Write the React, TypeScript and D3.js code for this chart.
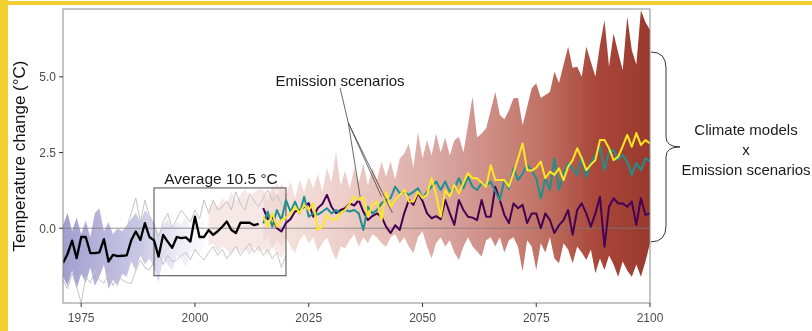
import * as d3 from "d3";

// observed record, 1971-2014
const histStart = 1971;
const histTemp = [
  -1.15, -0.85, -0.41, -0.99, -0.29, -0.29, -0.82, -0.82, -0.8, -0.36,
  -1.1, -0.88, -0.92, -0.91, -0.9, -0.4, -0.11, -0.39, 0.17, -0.29,
  -0.4, -0.94, -0.22, -0.44, -0.65, -0.29, -0.33, -0.3, -0.44, 0.38,
  -0.29, -0.29, -0.06, -0.22, -0.1, 0.05, 0.22, -0.06, -0.16, 0.18,
  0.18, 0.18, 0.1, 0.14,
];

// lavender spread around the observations, 1971-2002
const lavStart = 1971;
const lavUpper = [
  0.1, 0.5, -0.1, 0.35, -0.2, 0.25, -0.3, 0.5, 0.65, -0.1, 0.2, -0.2, 0.0,
  -0.1, 0.1, 0.3, 0.5, 0.2, 0.6, 0.4, 0.2, -0.2, 0.1, 0.3, 0.0, 0.2, 0.1,
  0.4, 0.0, 0.5, 0.2, 0.3,
];
const lavLower = [
  -1.6, -1.9, -1.4, -2.0, -1.5, -1.8, -1.3, -1.9, -1.6, -1.2, -2.0, -1.7,
  -1.9, -1.5, -1.6, -1.1, -1.4, -0.9, -1.2, -1.0, -1.3, -1.8, -1.0, -1.2,
  -1.4, -0.9, -1.0, -1.3, -0.8, -0.7, -0.9, -0.6,
];

// thin grey model lines
const greyUpStart = 1985;
const greyUpper = [
  0.0, 0.5, 1.0, 0.2, 0.93, 0.4, 0.1, -0.28, 0.2, 0.5, 0.0, 0.3, 0.6, 0.4,
  0.2, 0.6, 0.3, 0.93, 0.5, 0.93, 0.6, 0.7, 0.9, 0.6, 1.2, 0.8, 0.6, 1.15,
  0.9, 0.7, 1.0, 1.26, 0.9, 1.1, 0.8, 0.6,
];
const greyLowStart = 1971;
const greyLower = [
  -1.7, -2.0, -1.5, -1.93, -2.47, -1.6, -1.8, -1.4, -1.7, -1.82, -1.5, -1.9,
  -1.6, -1.7, -1.8, -1.82, -1.4, -1.05, -1.3, -1.38, -1.1, -0.83, -1.2, -0.9,
  -1.1, -1.05, -0.9, -0.8, -1.05, -0.7, -0.9, -1.05, -0.8, -0.6, -0.9, -0.7,
  -1.0, -0.8, -0.6, -0.9, -0.7, -0.5, -0.8, -0.6, -0.9, -0.7, -1.0, -0.8,
  -1.3, -0.9,
];

// pale overlap band 2003-2020
const transStart = 2003;
const transUpper = [
  0.6, 0.9, 0.7, 1.0, 0.8, 1.2, 0.9, 1.1, 1.3, 1.0, 1.2, 1.3, 1.25, 1.1, 1.3,
  1.5, 1.2, 1.4,
];
const transLower = [
  -0.6, -0.5, -0.8, -0.6, -0.7, -0.9, -0.6, -0.8, -0.7, -0.9, -0.6, -0.8,
  -0.7, -0.9, -0.6, -0.8, -1.0, -0.7,
];

// climate models x emission scenarios envelope, 2015-2100
const scenStart = 2015;
const scenUpper = [
  1.2, 0.9, 1.4, 1.0, 1.5, 1.1, 1.54, 1.0, 1.6, 1.2, 1.7, 1.3, 1.8, 1.2, 2.0,
  1.5, 2.53, 1.4, 1.9, 1.3, 2.0, 1.5, 2.15, 1.4, 2.0, 1.6, 2.2, 1.7, 2.2, 1.6,
  2.3, 2.47, 2.8, 2.0, 3.19, 2.3, 2.91, 2.4, 3.13, 2.5, 3.0, 2.4, 2.9, 3.02,
  2.5, 3.4, 4.34, 3.0, 3.13, 3.3, 3.9, 4.51, 3.74, 3.6, 3.9, 4.29, 4.3, 3.4,
  4.0, 4.62, 4.79, 4.3, 4.4, 4.5, 5.17, 4.8, 5.4, 5.99, 5.3, 5.33, 5.0, 5.99,
  5.5, 5.0, 6.05, 6.87, 5.33, 6.43, 5.8, 5.22, 6.98, 5.88, 5.4, 7.2, 6.8,
  6.55,
];
const scenLower = [
  -0.5, -0.3, -0.7, -0.39, -0.6, -0.3, -0.6, -0.83, -0.4, -0.2, -0.5, -0.3,
  -0.77, -0.5, -0.3, -0.7, -1.05, -0.6, -0.66, -0.4, -0.2, -0.6, -0.3, -0.5,
  -0.2, -0.3, -0.5, -0.61, -0.3, -0.2, -0.5, -0.3, -0.6, -0.83, -0.3, -0.1,
  -0.6, -0.99, -0.5, -0.3, -0.6, -0.4, -0.8, -1.05, -0.6, -0.3, -0.6, -0.77,
  -0.94, -0.4, -0.3, -0.6, -0.3, -0.8, -0.4, -0.3, -0.61, -1.43, -0.4, -0.6,
  -1.38, -0.5, -0.8, -0.3, -1.0, -1.16, -0.5, -0.7, -1.16, -0.6, -0.8, -1.05,
  -0.7, -1.49, -1.0, -1.38, -0.9, -1.2, -1.6, -1.1, -1.4, -1.6, -1.2, -1.6,
  -1.1, -0.5,
];

// three emission scenario means, 2015-2100
const scenLow = [
  0.66, 0.3, 0.4, 0.0, -0.11, 0.17, 0.3, 0.55, 0.6, 0.7, 0.83, 0.38, 0.67,
  0.8, 1.1, 0.71, 0.5, 0.6, 0.66, 0.82, 0.75, 0.93, 0.55, 0.27, 0.4, 0.49,
  0.38, 0.05, -0.16, 0.1, -0.06, 0.5, 0.93, 0.77, 1.16, 0.9, 0.49, 0.33, 0.4,
  0.3, 0.93, 0.5, 0.11, 0.93, 0.6, 0.38, 0.35, 0.27, 0.93, 0.38, 0.38, 1.37,
  0.93, 0.44, 0.17, 0.82, 0.66, 0.77, 0.17, 0.49, 0.49, 0.0, 0.49, 0.27,
  -0.16, 0.1, 0.27, 0.6, -0.22, 0.6, 0.82, 0.49, 0.05, 0.49, 1.04, -0.61,
  0.71, 0.99, 0.82, 0.82, 0.71, 0.88, 0.11, 0.99, 0.44, 0.5,
];
const scenMid = [
  0.16, 0.55, 0.05, 0.6, 0.27, 0.93, 0.55, 0.88, 0.49, 1.04, 0.38, 0.49,
  0.45, 0.55, 0.66, 0.49, 0.6, 0.5, 0.6, 0.55, 0.6, 0.49, -0.06, 0.71, 0.49,
  0.6, 0.82, 0.93, 0.99, 1.37, 1.16, 1.2, 1.1, 1.2, 1.32, 0.99, 1.2, 1.37,
  1.54, 1.26, 1.54, 1.2, 1.32, 1.65, 1.32, 1.7, 1.37, 1.26, 1.49, 1.4, 1.54,
  1.21, 0.93, 1.59, 1.3, 1.98, 1.59, 1.8, 2.09, 1.9, 1.65, 0.99, 1.65, 1.26,
  2.31, 1.26, 1.82, 2.15, 1.98, 1.76, 2.36, 1.7, 2.15, 2.4, 2.69, 1.92, 2.53,
  2.58, 2.25, 2.42, 2.2, 1.76, 2.15, 1.92, 2.31, 2.2,
];
const scenHigh = [
  0.38, 0.05, 0.49, 0.05, 0.27, 0.35, 0.49, 0.71, 0.5, 0.77, 0.6, 0.82,
  -0.06, 0.05, 0.44, 0.3, 0.27, 0.49, 0.6, 0.82, 1.04, 0.93, 1.04, 0.38,
  0.77, 0.88, 0.27, 1.2, 0.71, 0.93, 1.1, 1.26, 0.88, 0.88, 1.2, 1.0, 1.1,
  1.65, 1.1, 0.38, 1.26, 1.04, 1.43, 1.15, 1.5, 1.82, 1.65, 1.65, 1.5, 1.37,
  2.09, 1.59, 1.59, 1.59, 1.37, 1.82, 2.3, 2.8, 1.92, 1.9, 2.0, 2.2, 1.65,
  1.87, 1.76, 1.98, 1.59, 2.03, 2.25, 2.64, 2.31, 1.92, 2.1, 2.25, 2.91,
  2.91, 2.64, 2.25, 2.36, 2.7, 3.08, 2.69, 3.14, 2.75, 2.91, 2.8,
];

const xTicks = [1975, 2000, 2025, 2050, 2075, 2100];
const yTicks = [0, 2.5, 5.0];

// 30-year reference window
const refYears = [1991, 2020];
const refTemps = [-1.57, 1.33];

const W = 812;
const H = 331;
const M = { left: 63, right: 650, top: 9, bottom: 303 };
const FONT = "'Liberation Sans', Arial, Helvetica, sans-serif";

type P = [number, number];
const toPts = (start: number, vals: number[]): P[] =>
  vals.map((v, i) => [start + i, v]);

export default function App() {
  const x = d3.scaleLinear().domain([1971, 2100]).range([M.left, M.right]);
  const y = d3.scaleLinear().domain([-2.47, 7.24]).range([M.bottom, M.top]);

  const line = d3
    .line<P>()
    .x((d) => x(d[0]))
    .y((d) => y(d[1]));

  const band = (start: number, up: number[], lo: number[]) =>
    d3
      .area<number>()
      .x((_, i) => x(start + i))
      .y0((_, i) => y(lo[i]))
      .y1((d) => y(d))(up) || "";

  // brace geometry
  const bx0 = M.right + 1;
  const bxm = M.right + 16;
  const bxt = M.right + 30;
  const by0 = y(5.82);
  const by1 = y(-0.45);
  const bym = (by0 + by1) / 2;
  const brace = `M${bx0},${by0} Q${bxm},${by0} ${bxm},${by0 + 16} L${bxm},${bym - 10} Q${bxm},${bym} ${bxt},${bym} Q${bxm},${bym} ${bxm},${bym + 10} L${bxm},${by1 - 16} Q${bxm},${by1} ${bx0},${by1}`;

  // leader lines for "Emission scenarios"
  const hub: P = [2033.7, 3.48];
  const leaderFrom: P = [2031.9, 4.63];
  const leaderTo: P[] = [
    [2036.3, 1.04],
    [2041.0, 1.04],
    [2043.4, 0.5],
  ];

  return (
    <div style={{ position: "fixed", left: 0, top: 0 }}>
      <svg width={W} height={H} style={{ display: "block", fontFamily: FONT }}>
        <defs>
          <linearGradient
            id="scenGrad"
            gradientUnits="userSpaceOnUse"
            x1={x(2015)}
            x2={x(2100)}
            y1={0}
            y2={0}
          >
            <stop offset="0%" stopColor="#efd3ce" stopOpacity={0.55} />
            <stop offset="25%" stopColor="#e4b5ad" stopOpacity={0.75} />
            <stop offset="50%" stopColor="#d0918a" stopOpacity={0.88} />
            <stop offset="72%" stopColor="#bd6a5c" stopOpacity={0.95} />
            <stop offset="86%" stopColor="#a8473a" stopOpacity={1} />
            <stop offset="100%" stopColor="#9a3a2e" stopOpacity={1} />
          </linearGradient>
          <linearGradient
            id="lavGrad"
            gradientUnits="userSpaceOnUse"
            x1={x(1971)}
            x2={x(2002)}
            y1={0}
            y2={0}
          >
            <stop offset="0%" stopColor="#7b73b9" stopOpacity={0.7} />
            <stop offset="55%" stopColor="#9690cc" stopOpacity={0.5} />
            <stop offset="100%" stopColor="#cfcbe6" stopOpacity={0.1} />
          </linearGradient>
          <clipPath id="panel">
            <rect x={M.left} y={M.top} width={M.right - M.left} height={M.bottom - M.top} />
          </clipPath>
        </defs>

        {/* yellow frame */}
        <rect x={0} y={0} width={8} height={H} fill="#f0cf2f" />
        <rect x={0} y={1} width={W} height={4} fill="#f0cf2f" />

        <rect x={M.left} y={M.top} width={M.right - M.left} height={M.bottom - M.top} fill="#fff" />

        <g clipPath="url(#panel)">
          <path d={band(lavStart, lavUpper, lavLower)} fill="url(#lavGrad)" />
          <path d={band(transStart, transUpper, transLower)} fill="#ecd6d2" fillOpacity={0.55} />
          <path d={band(scenStart, scenUpper, scenLower)} fill="url(#scenGrad)" />

          <line x1={M.left} x2={M.right} y1={y(0)} y2={y(0)} stroke="#7a7a7a" strokeOpacity={0.8} strokeWidth={1} />

          <path d={line(toPts(greyUpStart, greyUpper)) || ""} fill="none" stroke="#c4c4c4" strokeWidth={1} />
          <path d={line(toPts(greyLowStart, greyLower)) || ""} fill="none" stroke="#c4c4c4" strokeWidth={1} />

          <rect
            x={x(refYears[0])}
            y={y(refTemps[1])}
            width={x(refYears[1]) - x(refYears[0])}
            height={y(refTemps[0]) - y(refTemps[1])}
            fill="none"
            stroke="#333"
            strokeWidth={0.9}
          />

          <path d={line(toPts(histStart, histTemp)) || ""} fill="none" stroke="#000" strokeWidth={2.3} strokeLinejoin="round" />
          <path d={line(toPts(scenStart, scenLow)) || ""} fill="none" stroke="#440154" strokeWidth={2} strokeLinejoin="round" />
          <path d={line(toPts(scenStart, scenMid)) || ""} fill="none" stroke="#21908c" strokeWidth={2} strokeLinejoin="round" />
          <path d={line(toPts(scenStart, scenHigh)) || ""} fill="none" stroke="#fde725" strokeWidth={2} strokeLinejoin="round" />

          <line x1={x(leaderFrom[0])} y1={y(leaderFrom[1])} x2={x(hub[0])} y2={y(hub[1])} stroke="#444" strokeWidth={0.8} />
          {leaderTo.map((p, i) => (
            <line key={i} x1={x(hub[0])} y1={y(hub[1])} x2={x(p[0])} y2={y(p[1])} stroke="#444" strokeWidth={0.8} />
          ))}
        </g>

        <rect x={M.left} y={M.top} width={M.right - M.left} height={M.bottom - M.top} fill="none" stroke="#8a8a8a" strokeWidth={1} />

        {/* annotations */}
        <text x={221} y={183.5} textAnchor="middle" fontSize={15.5} fill="#1a1a1a">
          Average 10.5 °C
        </text>
        <text x={340} y={86} textAnchor="middle" fontSize={15} fill="#1a1a1a">
          Emission scenarios
        </text>
        <path d={brace} fill="none" stroke="#333" strokeWidth={1} />
        <g fontSize={15} fill="#1a1a1a" textAnchor="middle">
          <text x={746} y={135}>Climate models</text>
          <text x={746} y={155}>x</text>
          <text x={746} y={175}>Emission scenarios</text>
        </g>

        {/* axes */}
        {xTicks.map((t) => (
          <g key={t}>
            <line x1={x(t)} x2={x(t)} y1={M.bottom} y2={M.bottom + 4} stroke="#333" />
            <text x={x(t)} y={M.bottom + 19} textAnchor="middle" fontSize={12} fill="#4d4d4d">
              {t}
            </text>
          </g>
        ))}
        {yTicks.map((t) => (
          <g key={t}>
            <line x1={M.left - 4} x2={M.left} y1={y(t)} y2={y(t)} stroke="#333" />
            <text x={M.left - 7} y={y(t) + 4.3} textAnchor="end" fontSize={12} fill="#4d4d4d">
              {d3.format(".1f")(t)}
            </text>
          </g>
        ))}
        <text
          transform={`translate(25,${(M.top + M.bottom) / 2}) rotate(-90)`}
          textAnchor="middle"
          fontSize={17}
          fill="#111"
        >
          Temperature change (°C)
        </text>
      </svg>
    </div>
  );
}
